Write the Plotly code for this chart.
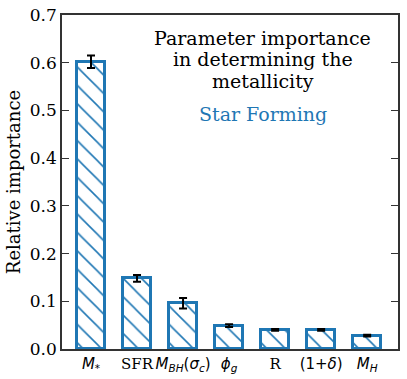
import plotly.graph_objects as go

labels = ["<i>M</i><sub>*</sub>",
          "<span style='font-family:DejaVu Serif'>SFR</span>",
          "<i>M</i><sub><i>BH</i></sub>(<i>σ</i><sub><i>c</i></sub>)",
          "<i>ϕ</i><sub><i>g</i></sub>",
          "<span style='font-family:DejaVu Serif'>R</span>",
          "(1+<i>δ</i>)",
          "<i>M</i><sub><i>H</i></sub>"]
values = [0.602, 0.148, 0.096, 0.049, 0.040, 0.040, 0.028]
errors = [0.013, 0.007, 0.011, 0.003, 0.002, 0.002, 0.002]
title_lines = ["Parameter importance", "in determining the", "metallicity"]
subtitle = "Star Forming"

blue = "#1f77b4"
serif = "DejaVu Serif, serif"
fig = go.Figure()
fig.add_trace(go.Bar(
    x=list(range(len(values))), y=values,
    width=0.62,
    marker=dict(color="white", line=dict(color=blue, width=3),
                pattern=dict(shape="\\", fgcolor=blue, fgopacity=1, bgcolor="white", size=13, solidity=0.12)),
    error_y=dict(type="data", array=errors, color="black", thickness=2, width=4),
))

fig.update_layout(
    width=407, height=379,
    margin=dict(l=62, r=9, t=15, b=30),
    plot_bgcolor="white", paper_bgcolor="white",
    showlegend=False,
    font=dict(family=serif, size=15, color="black"),
    bargap=0,
)
fig.update_xaxes(
    range=[-0.63, 6.67], tickmode="array", tickvals=list(range(len(values))), ticktext=labels,
    ticks="", showline=True, linecolor="#333", linewidth=1.5, mirror=True, showgrid=False,
    tickfont=dict(family="DejaVu Sans, sans-serif", size=15), automargin=False,
)
fig.update_yaxes(
    range=[0, 0.7], tickvals=[0, 0.1, 0.2, 0.3, 0.4, 0.5, 0.6, 0.7],
    ticktext=["0.0", "0.1", "0.2", "0.3", "0.4", "0.5", "0.6", "0.7"],
    ticks="inside", ticklen=7, tickcolor="#333", showline=True, linecolor="#333", linewidth=1.5,
    mirror="ticks", showgrid=False, zeroline=False, automargin=False,
    title=dict(text="Relative importance", font=dict(family=serif, size=18), standoff=5),
    tickfont=dict(family=serif, size=17),
)
for yy, line in zip([0.931, 0.868, 0.802], title_lines):
    fig.add_annotation(xref="paper", yref="paper", x=0.598, y=yy, xanchor="center", yanchor="middle",
                       text=line, showarrow=False, font=dict(size=19, family=serif))
fig.add_annotation(xref="paper", yref="paper", x=0.598, y=0.704, xanchor="center", yanchor="middle",
                   text=subtitle, showarrow=False, font=dict(size=19, family=serif, color=blue))
fig.write_html("out.html", config={"displayModeBar": False},
               post_script="document.body.style.margin='0';")
